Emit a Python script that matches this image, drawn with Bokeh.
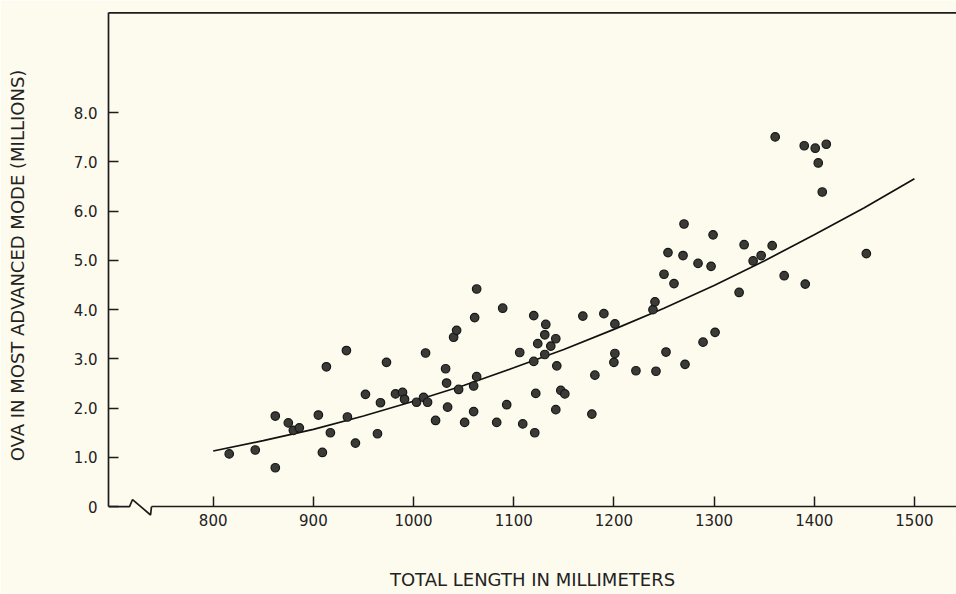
from bokeh.plotting import figure
from bokeh.models import LinearAxis, FixedTicker, Range1d, Span
from bokeh.embed import file_html
from bokeh.resources import INLINE

# ---- data ----
length_mm = [816, 842, 862, 862, 875, 880, 886, 905, 909, 913, 917, 933, 934, 942, 952,
             964, 967, 973, 982, 989, 991, 1003, 1010, 1014, 1012, 1022, 1032, 1033, 1034,
             1040, 1043, 1045, 1051, 1060, 1060, 1061, 1063, 1063, 1083, 1089, 1093, 1106,
             1109, 1120, 1120, 1121, 1122, 1124, 1131, 1131, 1132, 1137, 1142, 1142, 1143,
             1147, 1151, 1169, 1178, 1181, 1190, 1200, 1201, 1201, 1222, 1239, 1241, 1242,
             1250, 1252, 1254, 1260, 1269, 1270, 1271, 1284, 1289, 1297, 1299, 1301, 1325,
             1330, 1339, 1347, 1358, 1361, 1370, 1390, 1391, 1401, 1404, 1408, 1412, 1452]
ova_millions = [1.07, 1.15, 0.79, 1.84, 1.70, 1.55, 1.60, 1.86, 1.10, 2.84, 1.50, 3.17, 1.82,
                1.29, 2.28, 1.48, 2.11, 2.93, 2.29, 2.32, 2.18, 2.12, 2.22, 2.12, 3.12, 1.75,
                2.80, 2.51, 2.02, 3.44, 3.58, 2.38, 1.71, 1.93, 2.45, 3.84, 2.64, 4.42, 1.71,
                4.03, 2.07, 3.13, 1.68, 3.88, 2.95, 1.50, 2.30, 3.31, 3.49, 3.09, 3.70, 3.26,
                3.41, 1.97, 2.86, 2.36, 2.29, 3.87, 1.88, 2.67, 3.92, 2.93, 3.11, 3.71, 2.76,
                4.00, 4.16, 2.75, 4.72, 3.14, 5.16, 4.53, 5.10, 5.74, 2.89, 4.94, 3.34, 4.88,
                5.52, 3.54, 4.35, 5.32, 4.99, 5.10, 5.30, 7.51, 4.69, 7.33, 4.52, 7.28, 6.98,
                6.39, 7.36, 5.14]

curve_mm = [800, 850, 900, 950, 1000, 1050, 1100, 1150, 1200, 1250, 1300, 1350, 1400, 1450, 1500]
curve_ova = [1.13, 1.34, 1.57, 1.84, 2.14, 2.46, 2.82, 3.19, 3.60, 4.03, 4.49, 4.99, 5.52, 6.07, 6.66]

x_ticks = [800, 900, 1000, 1100, 1200, 1300, 1400, 1500]
y_ticks = [0, 1, 2, 3, 4, 5, 6, 7, 8]
y_tick_labels = ["0", "1.0", "2.0", "3.0", "4.0", "5.0", "6.0", "7.0", "8.0"]

# axis break (zig-zag) on the length axis
break_x = [695.5, 716.5, 719.5, 737.5, 738.4]
break_y = [0, 0, 0.144, -0.17, 0]

X_START, X_END = 695.5, 1542
Y_START, Y_END = -0.485, 10.28
TOP_BORDER = 10.03

PAPER = "#fdfbee"
INK = "#1c1c1c"
FONT = "DejaVu Sans"

p = figure(width=956, height=594, output_backend="svg", toolbar_location=None,
           x_range=Range1d(X_START, X_END), y_range=Range1d(Y_START, Y_END),
           x_axis_location=None, y_axis_location=None,
           min_border_left=108, min_border_right=0, min_border_top=0, min_border_bottom=64,
           background_fill_color=PAPER, border_fill_color=PAPER, outline_line_color=None)
p.grid.grid_line_color = None

# left axis
yax = LinearAxis(ticker=FixedTicker(ticks=y_ticks), bounds=(0, TOP_BORDER),
                 axis_label="OVA IN MOST ADVANCED MODE (MILLIONS)")
yax.major_label_overrides = {t: s for t, s in zip(y_ticks, y_tick_labels)}
yax.major_tick_in = 10
yax.major_tick_out = 0
yax.major_label_standoff = 11
yax.axis_label_standoff = 43
p.add_layout(yax, "left")

# bottom axis, drawn at y = 0
xax = LinearAxis(ticker=FixedTicker(ticks=x_ticks), bounds=(738.4, X_END), fixed_location=0)
xax.major_tick_in = 10
xax.major_tick_out = 0
xax.major_label_standoff = 7
p.add_layout(xax, "below")

# carrier of the x-axis title (no line, no ticks)
xtitle = LinearAxis(ticker=FixedTicker(ticks=[]), axis_label="TOTAL LENGTH IN MILLIMETERS",
                    axis_line_color=None, major_tick_in=0, major_tick_out=0,
                    major_label_standoff=0, axis_label_standoff=38)
p.add_layout(xtitle, "below")

for ax in [xax, yax, xtitle]:
    ax.minor_tick_in = 0
    ax.minor_tick_out = 0
    ax.major_tick_line_color = INK
    ax.major_tick_line_width = 1.5
    ax.major_label_text_font = FONT
    ax.major_label_text_font_size = "15px"
    ax.major_label_text_color = "#222222"
    ax.axis_label_text_font = FONT
    ax.axis_label_text_font_size = "18px"
    ax.axis_label_text_font_style = "normal"
    ax.axis_label_text_color = "#222222"
for ax in [xax, yax]:
    ax.axis_line_color = INK
    ax.axis_line_width = 1.7

# top border of the chart box
p.add_layout(Span(location=TOP_BORDER, dimension="width", line_color=INK, line_width=1.7))

# zig-zag axis break
p.line(break_x, break_y, line_color=INK, line_width=1.7)

p.line(curve_mm, curve_ova, line_color="#111111", line_width=1.7)
p.scatter(length_mm, ova_millions, size=8.5, fill_color="#3a3a36", line_color="#161616",
          line_width=1.2)

open("out.html", "w").write(file_html(p, INLINE))
